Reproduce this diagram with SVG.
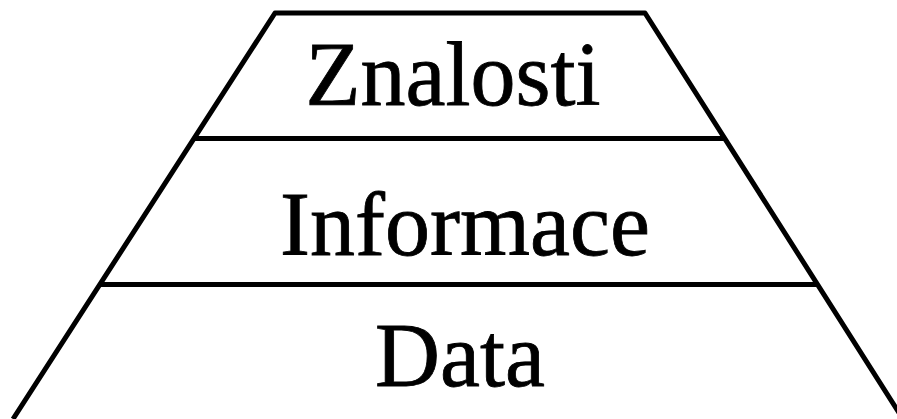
<svg xmlns="http://www.w3.org/2000/svg" width="897" height="419" viewBox="0 0 897 419">
<style>
.edge{stroke:#000;stroke-width:5;fill:none;stroke-linejoin:round}
.lbl{font-family:"Liberation Serif","Times New Roman",serif;font-size:90px;fill:#000;stroke:#000;stroke-width:0.8;text-anchor:middle}
</style>
<rect width="897" height="419" fill="#fff"/>
<g id="connectors">
<polyline class="edge" points="13,419 275,13 645,13 903,419"/>
<line class="edge" x1="194" y1="138.5" x2="724" y2="138.5"/>
<line class="edge" x1="100" y1="284.5" x2="817" y2="284.5"/>
</g>
<g id="znalosti"><text class="lbl" x="453" y="105">Znalosti</text></g>
<g id="informace"><text class="lbl" x="465" y="255">Informace</text></g>
<g id="data"><text class="lbl" x="460" y="386">Data</text></g>
</svg>
